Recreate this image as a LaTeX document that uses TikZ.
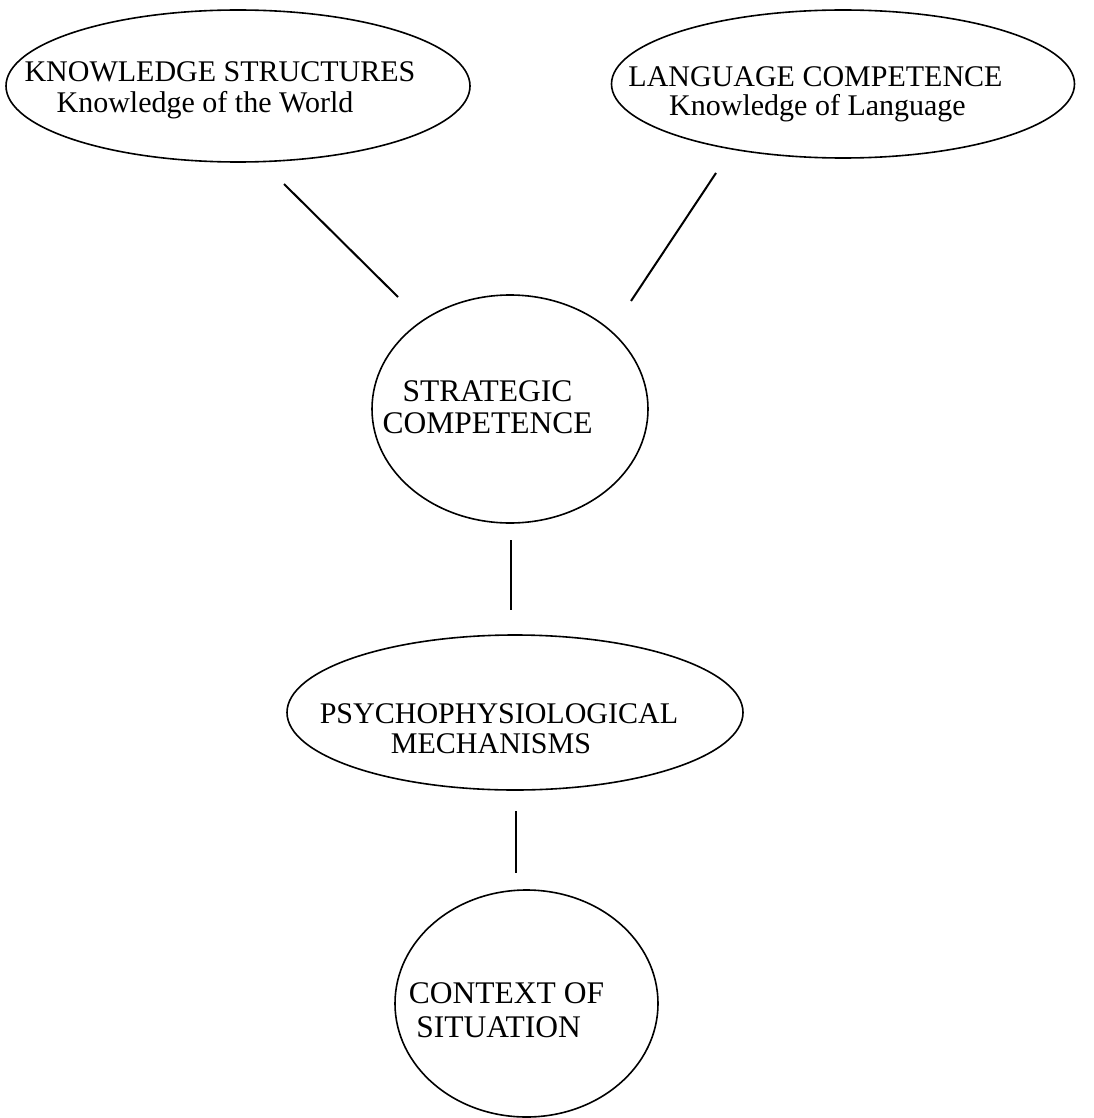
\documentclass[tikz,border=0pt]{standalone}
\usepackage{fontspec}
\setmainfont{Liberation Serif}
\usetikzlibrary{shapes.geometric}
\tikzset{
  blob/.style={ellipse, draw, line width=1.6pt, inner sep=0pt, outer sep=0pt},
  lbl/.style={inner sep=0pt, anchor=base, font=\fontsize{30}{36}\selectfont},
  lblbig/.style={lbl, font=\fontsize{31.5}{38}\selectfont},
  link/.style={line width=2pt}
}
\begin{document}
\begin{tikzpicture}[x=1pt, y=-1pt]
\useasboundingbox[fill=white] (0,0) rectangle (1093,1118);
% shapes
\node[blob, minimum width=464pt, minimum height=152pt] (ks) at (238,86) {};
\node[blob, minimum width=463pt, minimum height=148pt] (lc) at (843,84) {};
\node[blob, minimum width=276pt, minimum height=228pt] (sc) at (510,409) {};
\node[blob, minimum width=456pt, minimum height=155pt] (pm) at (515,712.5) {};
\node[blob, minimum width=263pt, minimum height=227pt] (cs) at (526.5,1003.5) {};
% texts
\node[lbl] (ks1) at (220,82) {KNOWLEDGE STRUCTURES};
\node[lbl] (ks2) at (205,113) {Knowledge of the World};
\node[lbl] (lc1) at (815.5,87) {LANGUAGE COMPETENCE};
\node[lbl] (lc2) at (817.5,116) {Knowledge of Language};
\node[lblbig] (sc1) at (487.5,401) {STRATEGIC};
\node[lblbig] (sc2) at (487.5,433) {COMPETENCE};
\node[lbl] (pm1) at (499,723) {PSYCHOPHYSIOLOGICAL};
\node[lbl] (pm2) at (491,753) {MECHANISMS};
\node[lblbig] (cs1) at (506.5,1003) {CONTEXT OF};
\node[lblbig] (cs2) at (498.5,1037) {SITUATION};
% connector ends
\coordinate (a1) at (284,184);
\coordinate (a2) at (398,297);
\coordinate (b1) at (716,173);
\coordinate (b2) at (631,301);
\coordinate (c1) at (511,540);
\coordinate (c2) at (511,610);
\coordinate (d1) at (516,811);
\coordinate (d2) at (516,873);
\draw[link] (a1) -- (a2);
\draw[link] (b1) -- (b2);
\draw[link] (c1) -- (c2);
\draw[link] (d1) -- (d2);
\end{tikzpicture}
\end{document}
